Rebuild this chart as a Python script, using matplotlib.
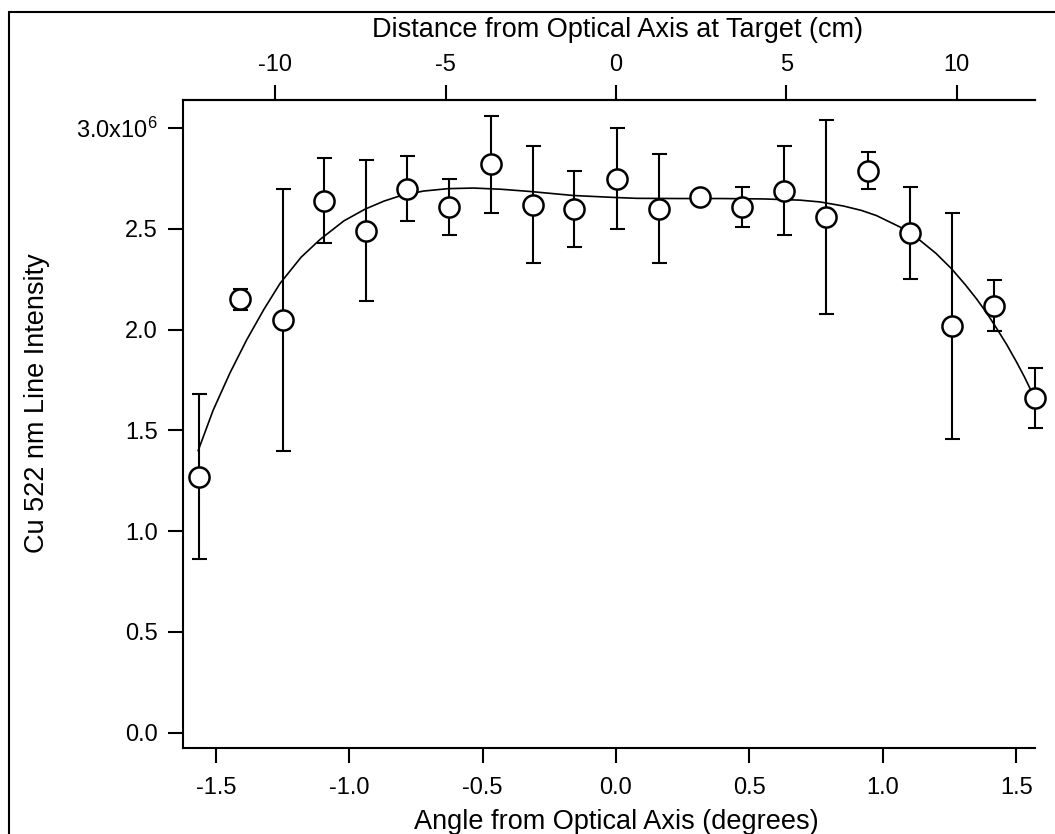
import matplotlib

matplotlib.use("Agg")
import matplotlib.pyplot as plt
from matplotlib.patches import Rectangle
from matplotlib.ticker import FixedFormatter, FixedLocator

# measured points (intensity in units of 1e6)
angle_deg = [-1.563, -1.409, -1.248, -1.094, -0.937, -0.783, -0.626, -0.468, -0.311, -0.157,
             0.003, 0.160, 0.315, 0.472, 0.630, 0.787, 0.945, 1.102, 1.258, 1.416, 1.570]
intensity = [1.27, 2.15, 2.05, 2.64, 2.49, 2.70, 2.61, 2.82, 2.62, 2.60,
             2.75, 2.60, 2.66, 2.61, 2.69, 2.56, 2.79, 2.48, 2.02, 2.12, 1.66]
intensity_err = [0.41, 0.05, 0.65, 0.21, 0.35, 0.16, 0.14, 0.24, 0.29, 0.19,
                 0.25, 0.27, 0.02, 0.10, 0.22, 0.48, 0.09, 0.23, 0.56, 0.125, 0.15]

# fitted curve
fit_deg = [-1.566, -1.51, -1.447, -1.384, -1.32, -1.259, -1.18, -1.109, -1.02, -0.941,
           -0.87, -0.81, -0.722, -0.63, -0.535, -0.43, -0.322, -0.16, 0.0, 0.078, 0.24,
           0.39, 0.552, 0.69, 0.765, 0.852, 0.92, 0.977, 1.064, 1.139, 1.20, 1.258, 1.31,
           1.352, 1.39, 1.427, 1.465, 1.502, 1.53, 1.552, 1.57]
fit_val = [1.40, 1.60, 1.785, 1.95, 2.10, 2.23, 2.36, 2.448, 2.54, 2.598,
           2.638, 2.664, 2.688, 2.700, 2.703, 2.697, 2.686, 2.666, 2.656, 2.652, 2.651,
           2.651, 2.649, 2.643, 2.634, 2.614, 2.592, 2.566, 2.510, 2.444, 2.378, 2.302, 2.222,
           2.152, 2.082, 2.006, 1.925, 1.838, 1.768, 1.708, 1.655]

y_ticks = [0.0, 0.5, 1.0, 1.5, 2.0, 2.5, 3.0]
y_tick_labels = ["0.0", "0.5", "1.0", "1.5", "2.0", "2.5", "3.0x10$^{6}$"]
x_ticks = [-1.5, -1.0, -0.5, 0.0, 0.5, 1.0, 1.5]
top_ticks = [-10, -5, 0, 5, 10]

CM_PER_DEG = 7.835

plt.rcParams["font.family"] = ["Liberation Sans", "DejaVu Sans"]
plt.rcParams["mathtext.default"] = "regular"
plt.rcParams["axes.unicode_minus"] = False

W, H = 1055, 834


def fx(px):
    return px / W


def fy(py):
    return 1 - py / H


fig = plt.figure(figsize=(10.55, 8.34), dpi=100)
fig.patch.set_facecolor("white")

# outer frame (runs off the right and bottom edges)
fig.patches.append(Rectangle((fx(9), -0.2), 1.5, fy(12) + 0.2, transform=fig.transFigure,
                             fill=False, edgecolor="black", linewidth=1.5))

ax = fig.add_axes([fx(182.7), fy(748), fx(1035) - fx(182.7), fy(100) - fy(748)])
ax.set_xlim(-1.624, 1.5705)
ax.set_ylim(-0.076, 3.140)

ax.errorbar(angle_deg, intensity, yerr=intensity_err, fmt="none", ecolor="black",
            elinewidth=1.5, capsize=5.4, capthick=1.5, zorder=2, clip_on=False)
ax.plot(fit_deg, fit_val, color="black", linewidth=1.2, zorder=3, clip_on=False)
ax.plot(angle_deg, intensity, linestyle="none", marker="o", markersize=14.5,
        markerfacecolor="white", markeredgecolor="black", markeredgewidth=1.8,
        zorder=4, clip_on=False)

ax.spines["right"].set_visible(False)
for side in ["left", "bottom", "top"]:
    ax.spines[side].set_linewidth(1.5)

ax.xaxis.set_major_locator(FixedLocator(x_ticks))
ax.set_xticklabels([f"{t:.1f}" for t in x_ticks])
ax.yaxis.set_major_locator(FixedLocator(y_ticks))
ax.yaxis.set_major_formatter(FixedFormatter(y_tick_labels))
ax.tick_params(axis="x", which="major", direction="out", length=11, width=1.5,
               labelsize=17, pad=10, top=False)
ax.tick_params(axis="y", which="major", direction="out", length=11, width=1.5,
               labelsize=17, pad=7, right=False)

top = ax.secondary_xaxis("top", functions=(lambda d: d * CM_PER_DEG, lambda c: c / CM_PER_DEG))
top.set_xticks(top_ticks)
top.set_xticklabels([str(t) for t in top_ticks])
top.tick_params(direction="out", length=11, width=1.5, labelsize=17, pad=6.5)
top.spines["top"].set_linewidth(1.5)

fig.text(fx(616.7), fy(829), "Angle from Optical Axis (degrees)", fontsize=19.5,
         ha="center", va="baseline")
fig.text(fx(617), fy(37.3), "Distance from Optical Axis at Target (cm)", fontsize=19.5,
         ha="center", va="baseline")
fig.text(fx(44), fy(403), "Cu 522 nm Line Intensity", fontsize=19.5, rotation=90,
         rotation_mode="anchor", ha="center", va="baseline")

fig.savefig("out.png", dpi=100)
